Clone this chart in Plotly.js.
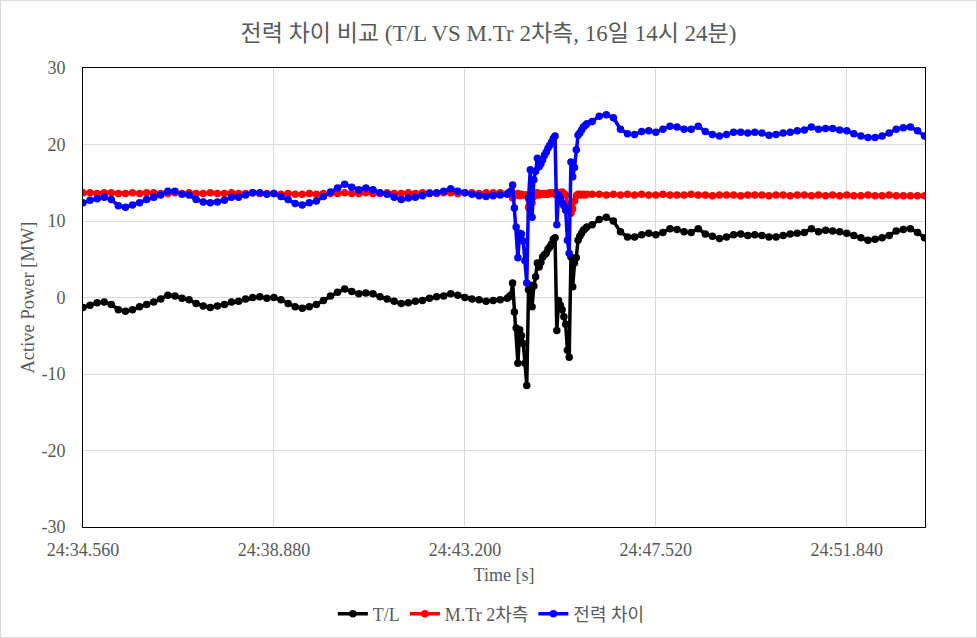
<!DOCTYPE html>
<html>
<head>
<meta charset="utf-8">
<script src="https://cdn.plot.ly/plotly-3.0.1.min.js"></script>
<style>
html,body{margin:0;padding:0;background:#fff;}
#chart{width:977px;height:638px;box-sizing:border-box;border:1px solid #d9d9d9;}
</style>
</head>
<body>
<div id="chart"></div>
<script>
// time in seconds after 14:24:00 (sampled)
const timeSec = [
34.56,34.72,34.88,35.04,35.20,35.36,35.52,35.68,35.84,36.00,36.16,36.32,36.48,36.64,36.80,36.96,37.12,37.28,37.44,37.60,
37.76,37.92,38.08,38.24,38.40,38.56,38.72,38.88,39.04,39.20,39.36,39.52,39.68,39.84,40.00,40.16,40.32,40.48,40.64,40.80,
40.96,41.12,41.28,41.44,41.60,41.76,41.92,42.08,42.24,42.40,42.56,42.72,42.88,43.04,43.20,43.36,43.52,43.68,43.84,44.00,44.16,
44.20,44.24,44.28,44.32,44.36,44.40,44.44,44.48,44.52,44.56,44.60,44.64,44.68,44.72,44.76,44.80,44.84,44.88,44.92,44.96,
45.00,45.04,45.08,45.12,45.16,45.20,45.24,45.28,45.32,45.36,45.40,45.44,45.48,45.52,45.56,45.60,45.64,45.68,45.72,45.76,
45.80,45.84,45.88,45.92,45.96,
46.08,46.24,46.40,46.56,46.72,46.88,47.04,47.20,47.36,47.52,47.68,47.84,48.00,48.16,48.32,48.48,48.64,48.80,48.96,49.12,
49.28,49.44,49.60,49.76,49.92,50.08,50.24,50.40,50.56,50.72,50.88,51.04,51.20,51.36,51.52,51.68,51.84,52.00,52.16,52.32,
52.48,52.64,52.80,52.96,53.12,53.28,53.44,53.60
];

const tlPower = [
-1.3,-1.0,-0.7,-0.6,-0.9,-1.6,-1.8,-1.6,-1.2,-0.9,-0.6,-0.2,0.3,0.2,-0.1,-0.3,-0.8,-1.1,-1.3,-1.1,
-0.9,-0.6,-0.5,-0.2,0.0,0.1,-0.1,0.0,-0.3,-0.8,-1.2,-1.4,-1.2,-0.9,-0.4,0.2,0.7,1.1,0.8,0.5,
0.6,0.5,0.1,-0.2,-0.5,-0.8,-0.7,-0.5,-0.4,-0.1,0.1,0.2,0.5,0.3,0.0,-0.2,-0.3,-0.5,-0.4,-0.3,-0.1,
0.1,0.3,1.9,-1.9,-4.0,-8.6,-4.2,-5.0,-6.0,-8.6,-11.5,1.0,1.6,-1.2,1.5,2.7,4.5,4.0,4.6,5.3,
5.6,5.8,6.3,6.6,7.0,7.6,7.8,-4.3,-0.4,-1.0,-1.6,-2.5,-3.5,-6.9,-7.8,5.3,1.4,4.5,5.2,7.5,
8.0,8.4,8.8,9.0,9.2,
9.5,10.2,10.5,10.0,8.6,7.9,7.9,8.2,8.4,8.2,8.5,9.0,8.9,8.6,8.5,9.0,8.3,8.0,7.7,7.9,
8.2,8.3,8.1,8.2,8.1,7.9,7.9,8.1,8.3,8.4,8.5,9.0,8.6,8.8,8.7,8.6,8.4,8.1,7.8,7.5,
7.6,7.8,8.1,8.7,8.9,9.0,8.5,7.8
];

const mtrPower = [
13.7,13.7,13.6,13.7,13.7,13.6,13.6,13.7,13.6,13.7,13.7,13.6,13.6,13.7,13.6,13.7,13.6,13.6,13.7,13.6,
13.6,13.7,13.6,13.6,13.7,13.6,13.6,13.6,13.5,13.6,13.5,13.5,13.6,13.5,13.6,13.6,13.6,13.7,13.6,13.6,
13.7,13.6,13.6,13.7,13.6,13.6,13.7,13.6,13.7,13.7,13.6,13.7,13.7,13.6,13.7,13.7,13.6,13.7,13.7,13.7,13.6,
13.6,13.6,13.0,13.5,13.4,13.6,13.3,13.5,13.4,13.4,13.4,11.8,11.4,12.4,13.2,13.6,13.7,13.4,13.5,13.6,
13.5,13.6,13.5,13.7,13.6,13.7,13.5,13.8,13.6,13.7,13.8,13.6,13.4,12.2,11.2,11.0,11.6,12.6,13.3,13.5,
13.5,13.4,13.5,13.4,13.5,
13.5,13.5,13.4,13.5,13.4,13.5,13.4,13.5,13.4,13.4,13.5,13.4,13.4,13.4,13.5,13.4,13.4,13.3,13.4,13.4,
13.4,13.3,13.4,13.4,13.4,13.3,13.4,13.4,13.3,13.4,13.4,13.3,13.4,13.3,13.4,13.3,13.4,13.3,13.3,13.4,
13.3,13.3,13.4,13.3,13.3,13.3,13.3,13.3
];

const diffPower = [
12.4,12.7,12.9,13.1,12.8,12.0,11.8,12.1,12.4,12.8,13.1,13.4,13.9,13.9,13.5,13.4,12.8,12.5,12.4,12.5,
12.7,13.1,13.1,13.4,13.7,13.7,13.5,13.6,13.2,12.8,12.3,12.1,12.4,12.6,13.2,13.8,14.3,14.8,14.4,14.1,
14.3,14.1,13.7,13.5,13.1,12.8,13.0,13.1,13.3,13.6,13.7,13.9,14.2,13.9,13.7,13.5,13.3,13.2,13.3,13.4,13.5,
13.7,13.9,14.7,11.7,9.2,5.2,8.4,8.3,7.4,4.8,1.9,13.0,16.7,10.5,15.4,16.5,18.2,17.1,17.5,18.0,
18.6,19.0,19.5,19.9,20.3,20.8,21.1,9.5,13.4,12.9,12.4,12.0,11.4,7.5,5.8,17.7,15.8,17.0,19.3,21.2,
21.5,21.9,22.3,22.5,22.7,
23.0,23.7,23.9,23.5,22.0,21.4,21.3,21.7,21.8,21.6,22.0,22.4,22.3,22.0,22.0,22.4,21.7,21.3,21.1,21.3,
21.6,21.6,21.5,21.6,21.5,21.2,21.3,21.5,21.6,21.8,21.9,22.3,22.0,22.1,22.1,21.9,21.8,21.4,21.1,20.9,
20.9,21.1,21.5,22.0,22.2,22.3,21.8,21.1
];

const xTickVals = [34.56, 38.88, 43.20, 47.52, 51.84];
const xTickText = ['24:34.560', '24:38.880', '24:43.200', '24:47.520', '24:51.840'];
const yTickVals = [-30, -20, -10, 0, 10, 20, 30];
const yTickText = ['-30', '-20', '-10', '0', '10', '20', '30'];

const FONT = 'Liberation Serif, "Times New Roman", "Noto Sans CJK KR", serif';
const GREY = '#595959';

function series(name, y, color) {
  return {
    type: 'scatter', mode: 'lines+markers', name: name,
    x: timeSec, y: y,
    line: {color: color, width: 3.5},
    marker: {color: color, size: 7.5, symbol: 'circle'}
  };
}

const data = [
  series('T/L', tlPower, '#000000'),
  series('M.Tr 2차측', mtrPower, '#ff0000'),
  series('전력 차이', diffPower, '#0000ff')
];

const layout = {
  width: 975, height: 636,
  margin: {l: 82, r: 51, t: 67, b: 110},
  paper_bgcolor: '#ffffff', plot_bgcolor: '#ffffff',
  font: {family: FONT, color: GREY, size: 18},
  title: {text: '전력 차이 비교 (T/L VS M.Tr 2차측, 16일 14시 24분)', font: {family: FONT, size: 23, color: GREY}, x: 0.5, xanchor: 'center', y: 0.949, yanchor: 'middle'},
  showlegend: true,
  legend: {orientation: 'h', xref: 'paper', yref: 'container', x: 0.485, xanchor: 'center', y: 0.036, yanchor: 'middle', font: {family: FONT, size: 18, color: GREY}, itemwidth: 30, tracegroupgap: 0},
  xaxis: {
    range: [34.56, 53.61], tickmode: 'array', tickvals: xTickVals, ticktext: xTickText,
    automargin: false,
    showgrid: true, gridcolor: '#d9d9d9', gridwidth: 1, zeroline: false,
    showline: true, linecolor: '#000000', linewidth: 1, mirror: true,
    ticks: '', ticklen: 0, ticklabelstandoff: 6, tickfont: {family: FONT, size: 18, color: GREY},
    title: {text: 'Time [s]', font: {family: FONT, size: 18, color: GREY}, standoff: 9}
  },
  yaxis: {
    range: [-30, 30], tickmode: 'array', tickvals: yTickVals, ticktext: yTickText,
    automargin: false,
    showgrid: true, gridcolor: '#d9d9d9', gridwidth: 1, zeroline: false,
    showline: true, linecolor: '#000000', linewidth: 1, mirror: true,
    ticks: '', ticklabelstandoff: 13, tickfont: {family: FONT, size: 18, color: GREY},
    title: {text: 'Active Power [MW]', font: {family: FONT, size: 18.5, color: GREY}, standoff: 1}
  }
};

Plotly.newPlot('chart', data, layout, {displayModeBar: false, staticPlot: true});
</script>
</body>
</html>
